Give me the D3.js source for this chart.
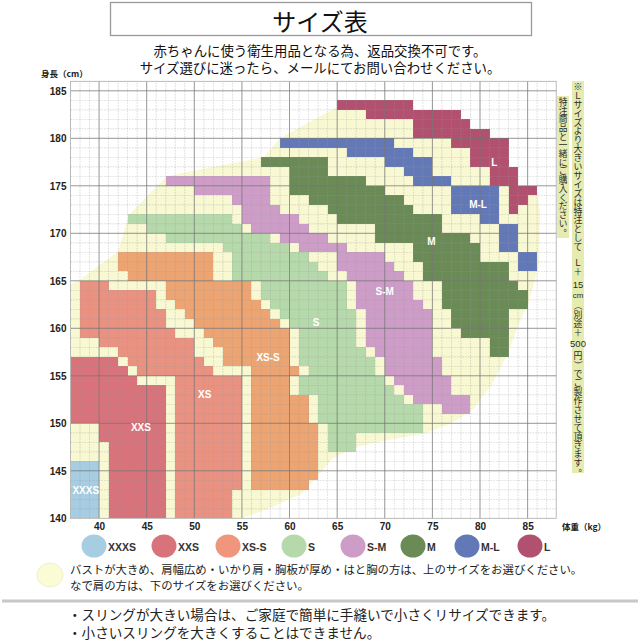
<!DOCTYPE html>
<html><head><meta charset="utf-8">
<script src="https://cdn.jsdelivr.net/npm/d3@7/dist/d3.min.js"></script>
<style>html,body{margin:0;padding:0;background:#fff}svg{display:block}</style>
</head><body>
<svg id="chart" width="640" height="640"></svg>
<script>
// ---------------- data ----------------
const weightTicks = [40,45,50,55,60,65,70,75,80,85];
const heightTicks = [140,145,150,155,160,165,170,175,180,185];
// blocks of cells: [weightFrom, weightTo, heightFrom, heightTo]
const XXXS = [[37,40,140,146]];
const XXS = [[37,42,156,157],[37,43,155,156],[37,44,154,155],[37,47,150,154],[40,47,148,150],[41,47,140,148]];
const XS = [[38,41,164,165],[38,46,162,164],[38,47,160,162],[38,48,159,160],[40,50,158,159],[42,50,157,158],[43,51,156,157],[44,52,155,156],[48,55,143,155],[48,54,140,143]];
const XS_S = [[42,52,166,168],[43,52,165,166],[47,56,163,165],[48,57,162,163],[49,58,161,162],[50,59,160,161],[51,60,159,160],[52,60,158,159],[53,60,156,158],[56,61,155,156],[56,60,153,155],[56,62,150,153],[56,63,144,150],[56,62,143,144]];
const S = [[43,54,171,172],[45,55,170,171],[47,58,169,170],[53,60,168,169],[54,62,167,168],[54,63,166,167],[54,64,165,166],[57,66,163,165],[58,66,162,163],[59,67,161,162],[60,67,160,161],[61,67,158,160],[61,68,157,158],[61,69,156,157],[62,69,155,156],[61,70,154,155],[61,71,153,154],[63,72,152,153],[63,74,150,152],[64,74,149,150],[64,67,147,149]];
const S_M = [[47,58,175,176],[50,58,174,175],[54,58,173,174],[55,59,172,173],[55,61,171,172],[56,62,170,171],[59,64,169,170],[61,66,168,169],[65,70,167,168],[65,71,166,167],[66,72,165,166],[67,73,163,165],[67,74,162,163],[68,75,158,162],[69,75,157,158],[70,76,155,157],[71,77,154,155],[72,77,153,154],[73,79,152,153],[76,79,151,152]];
const M = [[57,64,177,178],[60,64,176,177],[60,68,175,176],[60,70,174,175],[62,72,173,174],[64,73,172,173],[65,76,171,172],[69,76,170,171],[69,79,169,170],[73,80,167,169],[74,83,165,167],[76,84,164,165],[76,85,162,164],[77,83,160,162],[78,83,159,160],[81,83,157,159]];
const M_L = [[59,71,179,180],[66,73,178,179],[70,75,177,178],[72,75,176,177],[73,77,175,176],[77,82,172,175],[80,82,171,172],[82,84,168,171],[84,86,166,168]];
const L = [[65,73,183,184],[68,78,182,183],[73,79,181,182],[73,81,180,181],[77,83,179,180],[79,83,177,179],[81,84,175,177],[83,86,174,175],[83,85,173,174],[83,84,172,173]];
const sizeNames = ["XXXS","XXS","XS","XS-S","S","S-M","M","M-L","L"];
const sizeBlocks = [XXXS, XXS, XS, XS_S, S, S_M, M, M_L, L];
// outline of the pale "either size" zone: [weight, height]
const creamArea = [[37,140],[37,164.6],[38,165.1],[42,168.1],[43.1,171.9],[47.1,176],[52,177],[57.3,178],[59,180],[65,183.3],[65.3,183.6],[72.6,183.6],[72.6,182.5],[77.5,182.5],[78.5,181.5],[78.5,180.5],[80.5,180.5],[80.5,179.5],[82.5,179.5],[82.5,176.5],[83.5,176.5],[83.5,174.5],[85.5,174.5],[86,174.3],[86.3,172],[86.2,166.5],[85.6,164.5],[85.1,162.7],[84,160.3],[83,157.5],[81.3,154.2],[79.3,151.5],[77,150],[74.1,148.9],[70,148.2],[67,147.5],[64.5,146.3],[63,144.5],[61.3,142.6],[58,141.1],[55,140]];
// size labels on the chart: [name, weight, height]
const labelSpots = [["XXXS",38.6,142.9],["XXS",44.4,149.6],["XS",51.1,153.0],["XS-S",57.75,156.9],["S",62.8,160.6],["S-M",70.0,163.9],["M",74.9,169.1],["M-L",79.8,173.0],["L",81.5,177.5]];
const legendNames = ["XXXS","XXS","XS-S","S","S-M","M","M-L","L"];
const titleText = "サイズ表";
const subLines = ["赤ちゃんに使う衛生用品となる為、返品交換不可です。","サイズ選びに迷ったら、メールにてお問い合わせください。"];
const yTitle = "身長（cm）";
const xTitle = "体重（kg）";
const creamNote = ["バストが大きめ、肩幅広め・いかり肩・胸板が厚め・はと胸の方は、上のサイズをお選びください。","なで肩の方は、下のサイズをお選びください。"];
const bullets = ["・スリングが大きい場合は、ご家庭で簡単に手縫いで小さくリサイズできます。","・小さいスリングを大きくすることはできません。"];
const sideNote1 = [{t:"※Ｌサイズより大きいサイズは特注として"},{t:"Ｌ＋",gap:7},{t:"15",h:true,gap:4},{t:"cm",h:true},{t:"（別途＋"},{t:"500",h:true,gap:2},{t:"円）でご製作させて頂きます。",gap:2}];
const sideNote2 = [{t:"特注商品と一緒にご購入ください。"}];

// ---------------- style ----------------
const colorOf = {"XXXS":"#a6cde2","XXS":"#d8737b","XS":"#e99282","XS-S":"#eca472","S":"#b6d9ab","S-M":"#cd9dc8","M":"#6a8b56","M-L":"#6379b7","L":"#b2506f"};
const legendColor = Object.assign({}, colorOf, {"XS-S":"#ef967d"});
const cream = "#f8f8d2";
const JP = "'Noto Sans CJK JP','Noto Sans',sans-serif";
const LAT = "'Liberation Sans',Arial,Helvetica,sans-serif";

const svg = d3.select("#chart");
svg.append("rect").attr("width",640).attr("height",640).attr("fill","#fff");

const x = d3.scaleLinear().domain([37,88]).range([70.5,556.2]);
const y = d3.scaleLinear().domain([140,186]).range([518.3,81.3]);

// title
svg.append("rect").attr("x",110.5).attr("y",2.5).attr("width",421).attr("height",33)
  .attr("fill","#fff").attr("stroke","#9a9a9a").attr("stroke-width",1.3);
svg.append("text").attr("x",320).attr("y",20).attr("text-anchor","middle").attr("dominant-baseline","central")
  .style("font-family",JP).style("font-size","24px").attr("fill","#111").text(titleText);
subLines.forEach((s,i)=>svg.append("text").attr("x",320).attr("y",50+i*16.5).attr("text-anchor","middle")
  .attr("dominant-baseline","central").style("font-family",JP).style("font-size","13.4px").attr("fill","#111").text(s));

// plot
const plot = svg.append("g");
plot.append("path").datum(creamArea)
  .attr("d", d3.line().x(d=>x(d[0])).y(d=>y(d[1])))
  .attr("fill", cream);
sizeBlocks.forEach((arr,i)=>{
  plot.selectAll(null).data(arr).join("rect")
    .attr("x",d=>x(d[0])).attr("y",d=>y(d[3]))
    .attr("width",d=>x(d[1])-x(d[0])).attr("height",d=>y(d[2])-y(d[3]))
    .attr("fill",colorOf[sizeNames[i]]).attr("shape-rendering","crispEdges");
});
// grid
const wAll = d3.range(38,88), hAll = d3.range(141,186);
plot.selectAll(null).data(wAll.filter(v=>v%5)).join("line")
  .attr("x1",d=>x(d)).attr("x2",d=>x(d)).attr("y1",y(140)).attr("y2",y(186))
  .attr("stroke","#9c9c9c").attr("stroke-width",0.6).attr("stroke-dasharray","1.6,1.2").attr("opacity",0.6);
plot.selectAll(null).data(hAll.filter(v=>v%5)).join("line")
  .attr("y1",d=>y(d)).attr("y2",d=>y(d)).attr("x1",x(37)).attr("x2",x(88))
  .attr("stroke","#9c9c9c").attr("stroke-width",0.6).attr("stroke-dasharray","1.6,1.2").attr("opacity",0.6);
plot.selectAll(null).data(weightTicks).join("line")
  .attr("x1",d=>x(d)).attr("x2",d=>x(d)).attr("y1",y(140)).attr("y2",y(186))
  .attr("stroke","#777").attr("stroke-width",0.9).attr("opacity",0.85);
plot.selectAll(null).data(heightTicks.filter(v=>v>140)).join("line")
  .attr("y1",d=>y(d)).attr("y2",d=>y(d)).attr("x1",x(37)).attr("x2",x(88))
  .attr("stroke","#777").attr("stroke-width",0.9).attr("opacity",0.85);
plot.append("rect").attr("x",x(37)).attr("y",y(186)).attr("width",x(88)-x(37)).attr("height",y(140)-y(186))
  .attr("fill","none").attr("stroke","#aaa").attr("stroke-width",0.8);

// labels in chart
plot.selectAll(null).data(labelSpots).join("text")
  .attr("x",d=>x(d[1])).attr("y",d=>y(d[2])).attr("text-anchor","middle").attr("dominant-baseline","central")
  .style("font-family",LAT).style("font-weight","bold").style("font-size","10px").attr("fill","#fff")
  .text(d=>d[0]);

// axes
const xa = svg.append("g").attr("transform",`translate(0,${y(140)})`)
  .call(d3.axisBottom(x).tickValues(weightTicks).tickSize(0).tickPadding(4.5));
const ya = svg.append("g").attr("transform",`translate(${x(37)},0)`)
  .call(d3.axisLeft(y).tickValues(heightTicks).tickSize(0).tickPadding(4));
[xa,ya].forEach(a=>{a.select(".domain").remove();
  a.selectAll("text").style("font-family",LAT).style("font-weight","bold").style("font-size","10px").attr("fill","#222");});
svg.append("text").attr("x",41).attr("y",77).style("font-family",JP).style("font-weight","bold")
  .style("font-size","8.5px").attr("fill","#222").text(yTitle);
svg.append("text").attr("x",562).attr("y",530).style("font-family",JP).style("font-weight","bold")
  .style("font-size","8.5px").attr("fill","#222").text(xTitle);

// side note (vertical, one glyph per step)
svg.append("rect").attr("x",572).attr("y",81).attr("width",12).attr("height",392).attr("fill","#e6ebb0");
svg.append("rect").attr("x",557).attr("y",96).attr("width",12).attr("height",142).attr("fill","#e6ebb0");
function vertical(pieces, cx, top, step, size){
  let yy = top + step/2;
  pieces.forEach(p=>{
    yy += p.gap || 0;
    if(p.h){
      svg.append("text").attr("x",cx).attr("y",yy).attr("text-anchor","middle").attr("dominant-baseline","central")
        .style("font-family",LAT).style("font-size",(p.t==="cm"?8:9.5)+"px").attr("fill","#2a2a2a").text(p.t);
      yy += step*1.2;
    } else {
      for(const ch of p.t){
        const t = svg.append("text").attr("x",cx).attr("y",yy).attr("text-anchor","middle").attr("dominant-baseline","central")
          .style("font-family",JP).style("font-size",size+"px").attr("fill","#2a2a2a").text(ch);
        if("（）".includes(ch)) t.attr("transform",`rotate(90,${cx},${yy})`);
        if("。、".includes(ch)) t.attr("x",cx+size*0.55).attr("y",yy-size*0.5);
        yy += step;
      }
    }
  });
}
vertical(sideNote1, 578, 82, 8.9, 8.9);
vertical(sideNote2, 563, 97, 8.7, 8.7);

// legend
const lx = [94,164,228,294,353,413,467,530];
legendNames.forEach((n,i)=>{
  svg.append("ellipse").attr("cx",lx[i]).attr("cy",546).attr("rx",12.5).attr("ry",11.5).attr("fill",legendColor[n]);
  svg.append("text").attr("x",lx[i]+14).attr("y",547).attr("dominant-baseline","central")
    .style("font-family",LAT).style("font-weight","bold").style("font-size","10.5px").attr("fill","#333").text(n);
});
svg.append("ellipse").attr("cx",50).attr("cy",575).attr("rx",13).attr("ry",12).attr("fill","#fbfbd6").attr("stroke","#ecebc6").attr("stroke-width",0.8);
creamNote.forEach((s,i)=>svg.append("text").attr("x",70).attr("y",569+i*15.5).attr("dominant-baseline","central")
  .style("font-family",JP).style("font-size","11.4px").attr("fill","#222").text(s));
svg.append("line").attr("x1",2).attr("x2",638).attr("y1",601).attr("y2",601).attr("stroke","#c8c8c8").attr("stroke-width",3);
bullets.forEach((s,i)=>svg.append("text").attr("x",68).attr("y",614+i*17.5).attr("dominant-baseline","central")
  .style("font-family",JP).style("font-size","13.6px").attr("fill","#222").text(s));
</script>
</body></html>
